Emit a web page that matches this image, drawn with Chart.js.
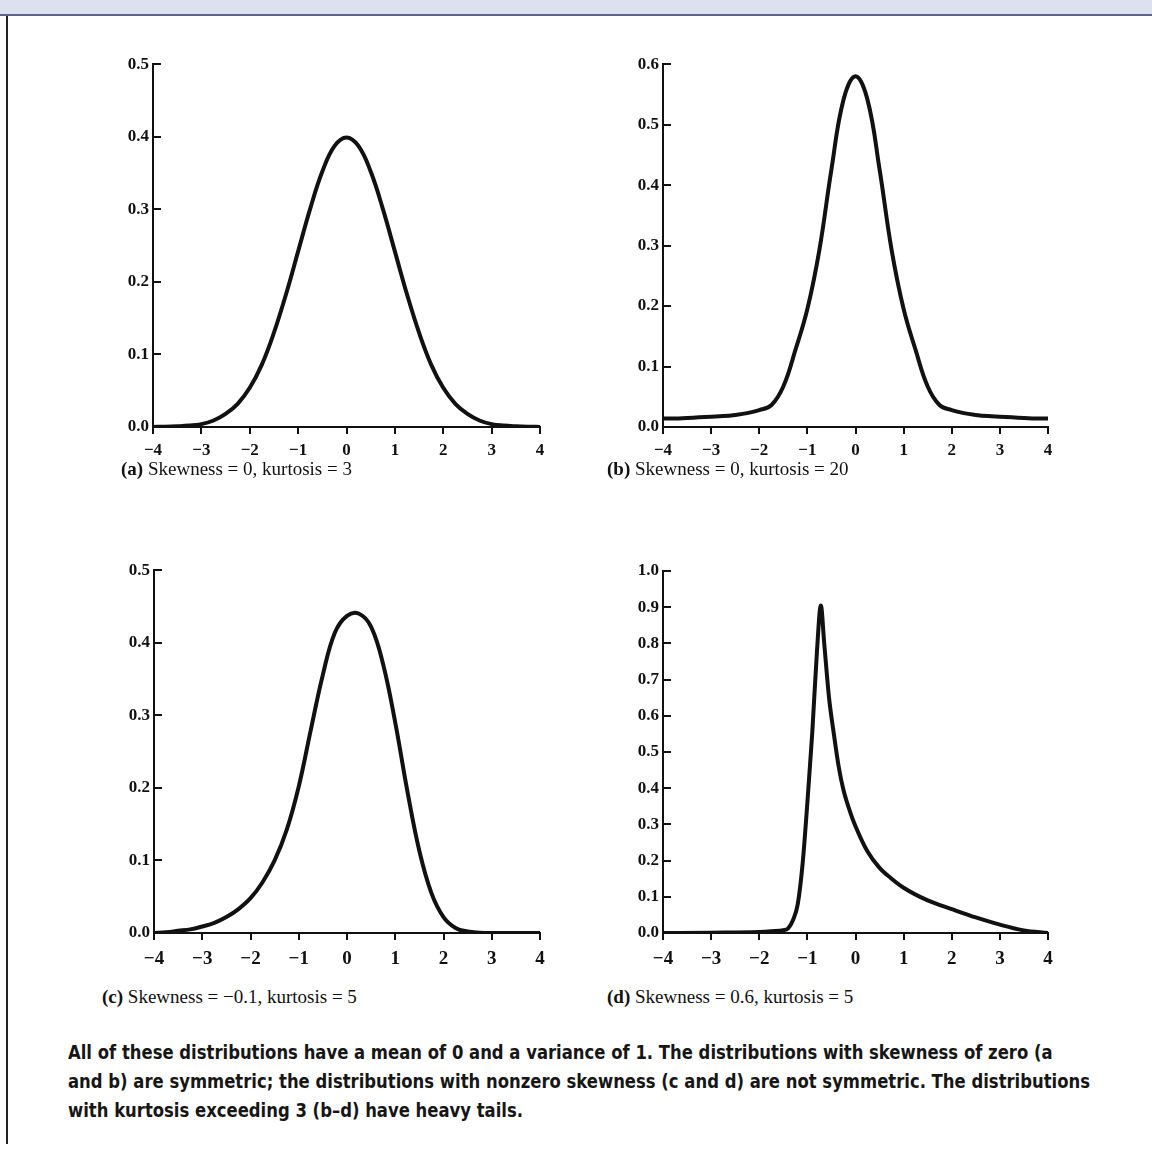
<!DOCTYPE html>
<html>
<head>
<meta charset="utf-8">
<script src="https://cdn.jsdelivr.net/npm/chart.js@4.4.1/dist/chart.umd.min.js"></script>
<style>
  html, body { margin: 0; padding: 0; background: #fff; }
  body { width: 1152px; height: 1153px; position: relative; overflow: hidden; }
  .band { position: absolute; left: 0; top: 0; width: 1152px; height: 14px; background: #dde0ef; border-bottom: 2px solid #5d6688; }
  .leftRule { position: absolute; left: 6px; top: 16px; width: 2px; height: 1128px; background: #222; }
  .panel { position: absolute; }
  .caption { position: absolute; font-family: "Liberation Serif", "DejaVu Serif", serif; font-size: 19px; color: #111; white-space: nowrap; }
  .caption b { font-weight: bold; }
  .note { position: absolute; left: 68px; top: 1038px; font-family: "DejaVu Sans", sans-serif; font-weight: bold; font-size: 20px; line-height: 29px; color: #161616; white-space: nowrap; transform-origin: left top; }
  .note span { display: block; }
</style>
</head>
<body>
<div class="band"></div>
<div class="leftRule"></div>

<canvas id="chartA" class="panel" style="left:100px; top:50px;"></canvas>
<canvas id="chartB" class="panel" style="left:610px; top:50px;"></canvas>
<canvas id="chartC" class="panel" style="left:100px; top:556px;"></canvas>
<canvas id="chartD" class="panel" style="left:610px; top:556px;"></canvas>

<div class="caption" style="left:121px; top:458px;"><b>(a)</b> Skewness = 0, kurtosis = 3</div>
<div class="caption" style="left:607px; top:458px;"><b>(b)</b> Skewness = 0, kurtosis = 20</div>
<div class="caption" style="left:102px; top:986px;"><b>(c)</b> Skewness = −0.1, kurtosis = 5</div>
<div class="caption" style="left:607px; top:986px;"><b>(d)</b> Skewness = 0.6, kurtosis = 5</div>

<div class="note" id="note">
  <span>All of these distributions have a mean of 0 and a variance of 1. The distributions with skewness of zero (a</span>
  <span id="noteLine2">and b) are symmetric; the distributions with nonzero skewness (c and d) are not symmetric. The distributions</span>
  <span>with kurtosis exceeding 3 (b–d) have heavy tails.</span>
</div>

<script>
// values
const xTickLabels = ['−4', '−3', '−2', '−1', '0', '1', '2', '3', '4'];

const xsQuarter = [-4, -3.75, -3.5, -3.25, -3, -2.75, -2.5, -2.25, -2, -1.75, -1.5, -1.25, -1, -0.75, -0.5, -0.25,
                   0, 0.25, 0.5, 0.75, 1, 1.25, 1.5, 1.75, 2, 2.25, 2.5, 2.75, 3, 3.25, 3.5, 3.75, 4];

// (a) skewness 0, kurtosis 3
const densityA = [0.0001, 0.0004, 0.001, 0.002, 0.004, 0.009, 0.018, 0.032, 0.054, 0.086, 0.130, 0.183, 0.242, 0.301, 0.352, 0.387,
                  0.399, 0.387, 0.352, 0.301, 0.242, 0.183, 0.130, 0.086, 0.054, 0.032, 0.018, 0.009, 0.004, 0.002, 0.001, 0.0004, 0.0001];

// (b) skewness 0, kurtosis 20
const densityB = [0.014, 0.014, 0.015, 0.016, 0.017, 0.018, 0.020, 0.023, 0.028, 0.036, 0.067, 0.127, 0.195, 0.293, 0.426, 0.541,
                  0.580, 0.541, 0.426, 0.293, 0.195, 0.127, 0.067, 0.036, 0.028, 0.023, 0.020, 0.018, 0.017, 0.016, 0.015, 0.014, 0.014];

// (c) skewness -0.1, kurtosis 5
const densityC = [0.0, 0.001, 0.003, 0.005, 0.009, 0.014, 0.022, 0.033, 0.048, 0.070, 0.100, 0.142, 0.202, 0.280, 0.356, 0.414,
                  0.437, 0.440, 0.422, 0.370, 0.290, 0.196, 0.113, 0.055, 0.022, 0.007, 0.002, 0.0005, 0.0, 0.0, 0.0, 0.0, 0.0];

// (d) skewness 0.6, kurtosis 5 (denser around the peak)
const xsD = [-4, -3, -2, -1.75, -1.5, -1.4, -1.3, -1.2, -1.1, -1.0, -0.9, -0.8, -0.72, -0.65, -0.55, -0.45, -0.35, -0.25,
             -0.1, 0, 0.25, 0.5, 0.75, 1, 1.5, 2, 2.5, 3, 3.5, 4];
const densityD = [0.0, 0.001, 0.003, 0.005, 0.008, 0.013, 0.035, 0.080, 0.190, 0.360, 0.550, 0.780, 0.905, 0.800, 0.650, 0.550, 0.460, 0.395,
                  0.330, 0.295, 0.225, 0.180, 0.150, 0.125, 0.090, 0.066, 0.043, 0.023, 0.007, 0.0];

const yMaxA = 0.5, yMaxB = 0.6, yMaxC = 0.5, yMaxD = 1.0;

const ink = '#111';

// y ticks in the figure point into the plot
const inwardTicks = {
    id: 'inwardTicks',
    afterDatasetsDraw(chart) {
        const { ctx, chartArea } = chart;
        const y = chart.scales.y;
        ctx.save();
        ctx.strokeStyle = ink;
        ctx.lineWidth = 2;
        y.ticks.forEach(t => {
            const py = Math.round(y.getPixelForValue(t.value));
            ctx.beginPath();
            ctx.moveTo(chartArea.left, py);
            ctx.lineTo(chartArea.left + 8, py);
            ctx.stroke();
        });
        ctx.restore();
    }
};

function makePanel(id, xs, ys, yMax, box, curve) {
    const canvas = document.getElementById(id);
    canvas.width = 470;
    canvas.height = 430;
    canvas.style.width = '470px';
    canvas.style.height = '430px';

    return new Chart(canvas.getContext('2d'), {
        type: 'line',
        data: {
            datasets: [{
                data: xs.map((x, i) => ({ x: x, y: ys[i] })),
                borderColor: ink,
                borderWidth: 4,
                pointRadius: 0,
                fill: false,
                tension: curve.tension,
                cubicInterpolationMode: curve.mode
            }]
        },
        options: {
            responsive: false,
            animation: false,
            layout: { padding: { top: box.top, right: box.right, left: 0, bottom: 0 } },
            plugins: { legend: { display: false }, tooltip: { enabled: false } },
            scales: {
                x: {
                    type: 'linear',
                    min: -4,
                    max: 4,
                    afterFit: s => { s.height = 430 - box.bottom; },
                    border: { display: true, color: ink, width: 2 },
                    grid: { drawOnChartArea: false, drawTicks: true, tickLength: 7, color: ink, lineWidth: 2 },
                    ticks: {
                        stepSize: 1,
                        padding: box.labelPad,
                        color: ink,
                        font: { family: "'Liberation Serif', serif", size: box.labelSize, weight: 'bold' },
                        maxRotation: 0,
                        callback: v => xTickLabels[Math.round(v) + 4]
                    }
                },
                y: {
                    min: 0,
                    max: yMax,
                    afterFit: s => { s.width = box.left; },
                    border: { display: true, color: ink, width: 2 },
                    grid: { display: false, drawTicks: false },
                    ticks: {
                        stepSize: 0.1,
                        padding: 4,
                        color: ink,
                        font: { family: "'Liberation Serif', serif", size: 17, weight: 'bold' },
                        callback: v => v.toFixed(1)
                    }
                }
            }
        },
        plugins: [inwardTicks]
    });
}

const smooth = { tension: 0.4, mode: 'default' };
makePanel('chartA', xsQuarter, densityA, yMaxA, { left: 53, top: 13, right: 30, bottom: 377, labelPad: 6, labelSize: 17 }, smooth);
makePanel('chartB', xsQuarter, densityB, yMaxB, { left: 53, top: 14, right: 32, bottom: 377, labelPad: 6, labelSize: 17 }, smooth);
makePanel('chartC', xsQuarter, densityC, yMaxC, { left: 54, top: 13, right: 30, bottom: 377, labelPad: 8, labelSize: 19 }, smooth);
makePanel('chartD', xsD, densityD, yMaxD, { left: 53, top: 15, right: 32, bottom: 377, labelPad: 8, labelSize: 19 }, { tension: 0, mode: 'monotone' });

// squeeze the note to the width of the printed paragraph
const note = document.getElementById('note');
const range = document.createRange();
range.selectNodeContents(document.getElementById('noteLine2'));
const textWidth = range.getBoundingClientRect().width;
note.style.transform = 'scaleX(' + (1022 / textWidth).toFixed(4) + ')';
</script>
</body>
</html>
